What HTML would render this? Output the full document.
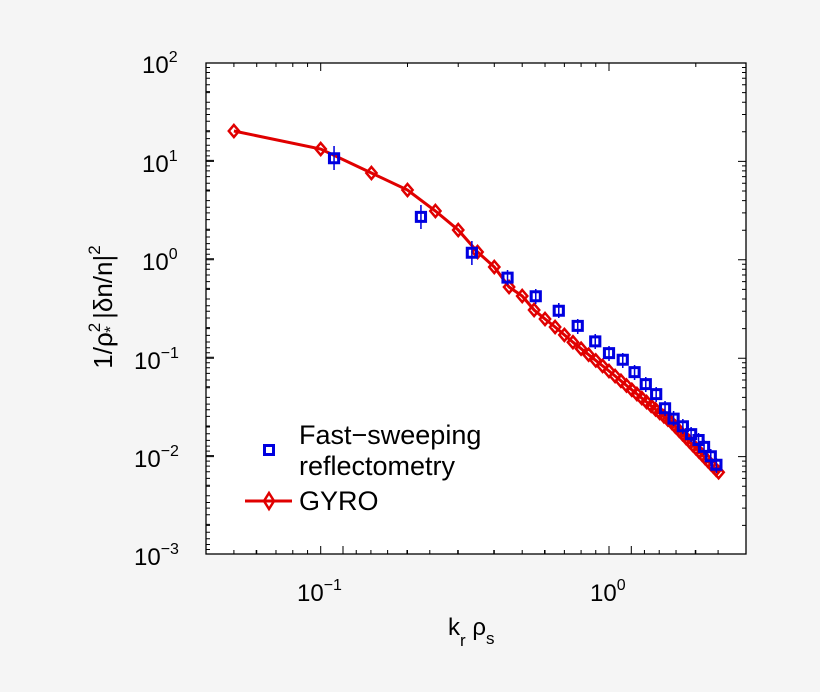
<!DOCTYPE html>
<html><head><style>
html,body{margin:0;padding:0;background:#f5f5f5;}
svg{display:block;font-family:"Liberation Sans",sans-serif;}
</style></head><body>
<svg width="820" height="692" viewBox="0 0 820 692" xmlns="http://www.w3.org/2000/svg">
<rect x="206" y="63" width="540" height="491" fill="#fff" stroke="#000" stroke-width="1.3"/>
<g id="tk" stroke="#000" stroke-width="1" fill="none">
<path d="M206 554h8M206 456.6h8M206 358.2h8M206 259.8h8M206 161.4h8M206 63h8
M206 525.4h4M206 508.1h4M206 495.8h4M206 486.2h4M206 478.4h4M206 471.8h4M206 466.1h4M206 461.1h4
M206 427h4M206 409.7h4M206 397.4h4M206 387.8h4M206 380h4M206 373.4h4M206 367.7h4M206 362.7h4
M206 328.6h4M206 311.3h4M206 299h4M206 289.4h4M206 281.6h4M206 275h4M206 269.3h4M206 264.3h4
M206 230.2h4M206 212.9h4M206 200.6h4M206 191h4M206 183.2h4M206 176.6h4M206 170.9h4M206 165.9h4
M206 131.8h4M206 114.5h4M206 102.2h4M206 92.6h4M206 84.8h4M206 78.2h4M206 72.5h4M206 67.5h4"/>
<path transform="matrix(1.01873,0,0,1,-4.784,0)" d="M319.5 554v-8M602.5 554v-8M234.3 554v-4M256.7 554v-4M275.6 554v-4M292.1 554v-4M306.6 554v-4M404.7 554v-4M454.5 554v-4M489.9 554v-4M517.3 554v-4M539.7 554v-4M558.7 554v-4M575.1 554v-4M589.5 554v-4M687.7 554v-4"/>
</g>
<use href="#tk" transform="translate(952,0) scale(-1,1)"/>
<use href="#tk" transform="translate(0,617) scale(1,-1)"/>
<g font-size="24" fill="#000">
<text x="142" y="73">10<tspan font-size="16" dy="-11">2</tspan></text>
<text x="142" y="172">10<tspan font-size="16" dy="-11">1</tspan></text>
<text x="142" y="270">10<tspan font-size="16" dy="-11">0</tspan></text>
<text x="134" y="369">10<tspan font-size="16" dy="-11">−1</tspan></text>
<text x="134" y="467">10<tspan font-size="16" dy="-11">−2</tspan></text>
<text x="134" y="565">10<tspan font-size="16" dy="-11">−3</tspan></text>
<text x="297" y="601">10<tspan font-size="16" dy="-11">−1</tspan></text>
<text x="590" y="601">10<tspan font-size="16" dy="-11">0</tspan></text>
<text x="448" y="635">k<tspan font-size="17" dy="11">r</tspan><tspan dy="-11"> ρ</tspan><tspan font-size="17" dy="9">s</tspan></text>
<text transform="translate(112,307) rotate(-90)" text-anchor="middle" font-size="26">1/ρ<tspan font-size="17" dy="-12">2</tspan><tspan font-size="17" dy="16" dx="-10">*</tspan><tspan dy="-4">  |δn/n|</tspan><tspan font-size="17" dy="-12">2</tspan></text>
</g>
<g transform="matrix(1.01873,0,0,1,-4.784,0)">
<polyline fill="none" stroke="#e00000" stroke-width="3" points="234.3,131 319.5,149 369.3,173 404.7,190 432.1,211 454.5,230 473.5,252 489.9,267 504.4,287 517.3,296 529,310 539.7,319 549.6,327 558.7,334.9 567.1,342.2 575.1,348.7 582.5,354.7 589.5,360.4 596.2,365.9 602.5,371 608.5,376 614.2,380.8 619.7,385.5 624.9,389.8 629.9,394 634.7,398.1 639.4,402 643.9,405.8 648.2,409.4 652.3,412.9 656.4,416.3 660.3,419.6 664.1,422.8 667.7,426.7 671.3,430.5 674.7,434.2 678.1,437.9 681.4,441.4 684.6,444.9 687.7,448.2 690.7,451.4 693.7,454.6 696.6,457.8 699.4,460.8 702.2,463.8 704.9,466.7 707.5,469.5 710.1,472.3"/>
<path fill="none" stroke="#e00000" stroke-width="2.5" d="M234.3 125l5 6-5 6-5-6zM319.5 143l5 6-5 6-5-6zM369.3 167l5 6-5 6-5-6zM404.7 184l5 6-5 6-5-6zM432.1 205l5 6-5 6-5-6zM454.5 224l5 6-5 6-5-6zM473.5 246l5 6-5 6-5-6zM489.9 261l5 6-5 6-5-6zM504.4 281l5 6-5 6-5-6zM517.3 290l5 6-5 6-5-6zM529 304l5 6-5 6-5-6zM539.7 313l5 6-5 6-5-6zM549.6 321l5 6-5 6-5-6zM558.7 328.9l5 6-5 6-5-6zM567.1 336.2l5 6-5 6-5-6zM575.1 342.7l5 6-5 6-5-6zM582.5 348.7l5 6-5 6-5-6zM589.5 354.4l5 6-5 6-5-6zM596.2 359.9l5 6-5 6-5-6zM602.5 365l5 6-5 6-5-6zM608.5 370l5 6-5 6-5-6zM614.2 374.8l5 6-5 6-5-6zM619.7 379.5l5 6-5 6-5-6zM624.9 383.8l5 6-5 6-5-6zM629.9 388l5 6-5 6-5-6zM634.7 392.1l5 6-5 6-5-6zM639.4 396l5 6-5 6-5-6zM643.9 399.8l5 6-5 6-5-6zM648.2 403.4l5 6-5 6-5-6zM652.3 406.9l5 6-5 6-5-6zM656.4 410.3l5 6-5 6-5-6zM660.3 413.6l5 6-5 6-5-6zM664.1 416.8l5 6-5 6-5-6zM667.7 420.7l5 6-5 6-5-6zM671.3 424.5l5 6-5 6-5-6zM674.7 428.2l5 6-5 6-5-6zM678.1 431.9l5 6-5 6-5-6zM681.4 435.4l5 6-5 6-5-6zM684.6 438.9l5 6-5 6-5-6zM687.7 442.2l5 6-5 6-5-6zM690.7 445.4l5 6-5 6-5-6zM693.7 448.6l5 6-5 6-5-6zM696.6 451.8l5 6-5 6-5-6zM699.4 454.8l5 6-5 6-5-6zM702.2 457.8l5 6-5 6-5-6zM704.9 460.7l5 6-5 6-5-6zM707.5 463.5l5 6-5 6-5-6zM710.1 466.3l5 6-5 6-5-6z"/>
<path fill="none" stroke="#0000e0" stroke-width="1.5" d="M332.6 146v24M417.9 205v24M467.9 241v24M502.9 270v15M530.6 289v15M553.2 303v15M571.8 319v15M589 334v15M602.5 346v15M616 353v15M627.6 365v15M638.6 377v15M648.8 387v15M657.5 401v15M665.9 411v15M675 419v15M683.1 427v15M690.4 433v15M695.8 440v15M702.4 449v15M707.9 458v15"/>
<path fill="none" stroke="#0000e0" stroke-width="3" d="M328.1 153.8h9v9h-9zM413.4 212.4h9v9h-9zM463.4 248.3h9v9h-9zM498.4 273.1h9v9h-9zM526.1 291.7h9v9h-9zM548.7 306.2h9v9h-9zM567.3 321.4h9v9h-9zM584.5 336.9h9v9h-9zM598 348.6h9v9h-9zM611.5 355.2h9v9h-9zM623.1 367.6h9v9h-9zM634.1 379.6h9v9h-9zM644.3 389.6h9v9h-9zM653 403.8h9v9h-9zM661.4 414.1h9v9h-9zM670.5 421.7h9v9h-9zM678.6 429.6h9v9h-9zM685.9 435.5h9v9h-9zM691.3 442.4h9v9h-9zM697.9 451.7h9v9h-9zM703.4 460.3h9v9h-9z"/>
</g>
<g font-size="27" fill="#000">
<text x="299" y="444">Fast−sweeping</text>
<text x="299" y="475">reflectometry</text>
<text x="299" y="510">GYRO</text>
</g>
<rect x="264.5" y="445.5" width="9" height="9" fill="none" stroke="#0000e0" stroke-width="3"/>
<line x1="245" y1="501" x2="292" y2="501" stroke="#e00000" stroke-width="3"/>
<path d="M269 493 L274 501 L269 509 L264 501 Z" fill="none" stroke="#e00000" stroke-width="2.5"/>
</svg>
</body></html>
